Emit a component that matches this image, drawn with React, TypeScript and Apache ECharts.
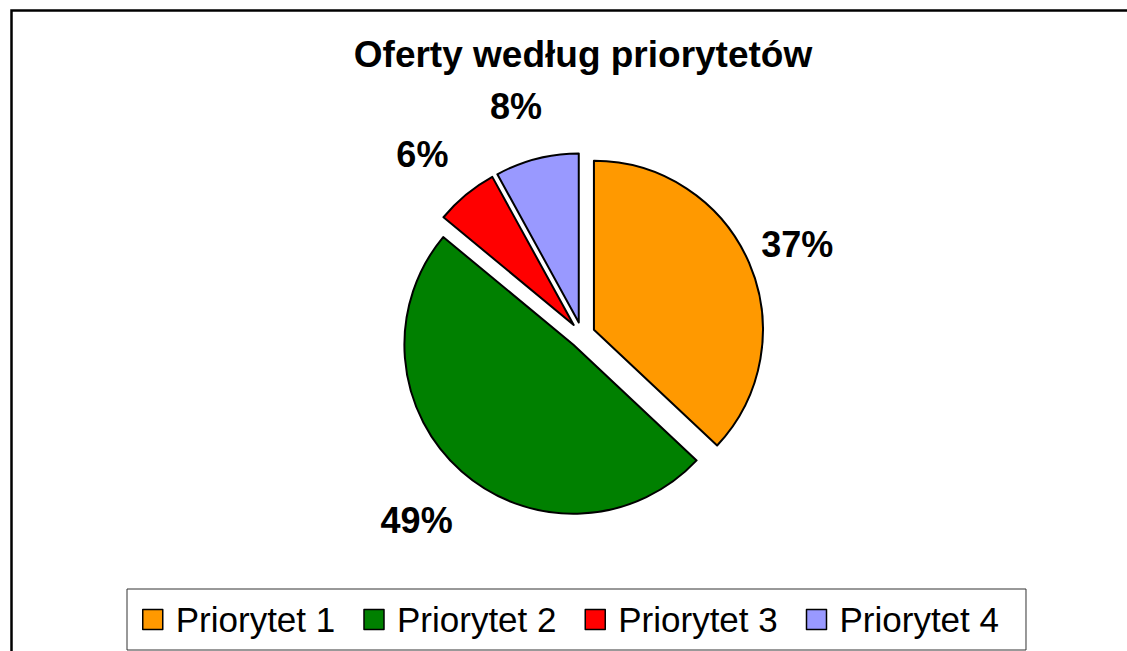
import React, { useEffect, useRef } from "react";
import * as echarts from "echarts";

const title = "Oferty według priorytetów";
const categories = ["Priorytet 1", "Priorytet 2", "Priorytet 3", "Priorytet 4"];
const values = [37, 49, 6, 8];
const colors = ["#FF9900", "#008000", "#FF0000", "#9999FF"];

const FONT = "'Liberation Sans', Arial, Helvetica, sans-serif";
const CX = 582;
const CY = 335;
const R = 169;
const OFFSET = 13;

export default function App() {
  const ref = useRef<HTMLDivElement>(null);

  useEffect(() => {
    if (!ref.current) return;
    const chart = echarts.init(ref.current, null, { renderer: "svg" });

    chart.setOption({
      animation: false,
      backgroundColor: "#ffffff",
      title: {
        text: title,
        left: 578,
        top: 31,
        textAlign: "center",
        textStyle: {
          fontFamily: FONT,
          fontSize: 37,
          fontWeight: "bold",
          color: "#000",
        },
      },
      legend: {
        data: categories,
        orient: "horizontal",
        left: 127,
        top: 589,
        padding: [13, 27, 13, 15],
        itemWidth: 20,
        itemHeight: 20,
        itemGap: 28,
        borderColor: "#333",
        borderWidth: 1,
        icon: "rect",
        selectedMode: false,
        itemStyle: { borderColor: "#000", borderWidth: 1.5 },
        textStyle: {
          fontFamily: FONT,
          fontSize: 35,
          color: "#000",
          padding: [0, 0, 0, 8],
        },
      },
      graphic: [
        {
          type: "rect",
          shape: { x: 11.5, y: 10.5, width: 1130, height: 700 },
          style: { fill: "none", stroke: "#000", lineWidth: 2.5 },
          silent: true,
          z: 100,
        },
      ],
      series: [
        {
          type: "pie",
          center: [CX, CY],
          radius: [0, R],
          startAngle: 90,
          clockwise: true,
          selectedMode: "multiple",
          selectedOffset: OFFSET,
          avoidLabelOverlap: false,
          emphasis: { disabled: true },
          itemStyle: { borderColor: "#000", borderWidth: 2 },
          label: { show: false },
          labelLine: { show: false },
          data: categories.map((name, i) => ({
            name,
            value: values[i],
            selected: true,
            itemStyle: { color: colors[i] },
          })),
        },
        {
          type: "pie",
          center: [CX - 6, CY + 5],
          radius: [200, 276],
          startAngle: 90,
          clockwise: true,
          silent: true,
          selectedMode: false,
          avoidLabelOverlap: false,
          emphasis: { disabled: true },
          itemStyle: { color: "rgba(0,0,0,0)", borderWidth: 0 },
          label: {
            show: true,
            position: "inside",
            formatter: "{d}%",
            fontFamily: FONT,
            fontSize: 36,
            fontWeight: "bold",
            color: "#000",
          },
          labelLine: { show: false },
          data: categories.map((name, i) => ({
            name,
            value: values[i],
          })),
        },
      ],
    });

    return () => chart.dispose();
  }, []);

  return (
    <div
      ref={ref}
      style={{ position: "fixed", left: 0, top: 0, width: 1127, height: 651 }}
    />
  );
}
